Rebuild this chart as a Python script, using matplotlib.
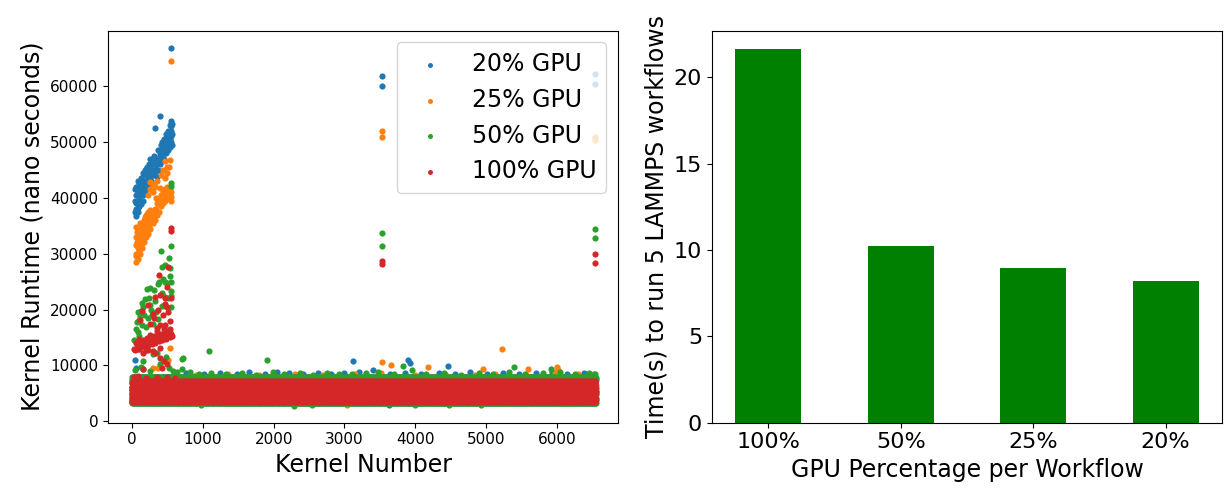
import numpy as np
import matplotlib
matplotlib.use("Agg")
import matplotlib.pyplot as plt

# ---- left panel: kernel runtimes (ns) per GPU share ----
n_kernels = 6550
labels = ["20% GPU", "25% GPU", "50% GPU", "100% GPU"]

# runtimes of one timestep's kernel sequence, repeated over the run
band_20 = [4300, 5800, 3400, 7000, 5100, 7900, 3900, 6400, 4700, 7500, 5500, 3300,
           6100, 4500, 7200, 5300, 7800, 4100, 6700, 5000, 3600, 7400, 5900]
band_25 = [4600, 3400, 6200, 5100, 7600, 3800, 5700, 4300, 6900, 5300, 7300, 4000,
           6500, 4900, 3500, 7700, 5500, 6000, 4400]
band_50 = [3900, 6100, 4800, 7400, 3300, 5600, 6800, 4300, 7900, 5200, 3600, 6400,
           4600, 7100, 5800, 4000, 7600]
band_100 = [4100, 5600, 3700, 6800, 4900, 6200, 3500, 5300, 7100, 4400, 5900, 3900,
            6500, 5000, 7200, 4200, 5700, 3600, 6300, 4700, 6900, 5400, 3800, 6000,
            4500, 6600]

# start-up kernels (first ~600) plus outliers
extra_20_x = [40, 40, 40, 60, 60, 60, 60, 80, 80, 80, 80, 100, 100, 100, 120, 120, 120,
              150, 150, 150, 150, 180, 180, 180, 210, 210, 210, 240, 240, 240, 270, 270,
              270, 300, 300, 300, 330, 330, 330, 360, 360, 360, 390, 390, 390, 420, 420,
              420, 450, 450, 450, 480, 480, 480, 510, 510, 510, 530, 530, 530, 550, 550,
              550, 550, 560, 560, 560, 45, 50, 160, 3533, 3533, 6533, 6533, 3118, 3903,
              3931, 4464, 3409, 3634,
              55, 70, 90, 95, 110, 130, 135, 165, 170, 195, 200, 225, 230, 255, 260, 285,
              315, 345, 375, 400, 405, 435, 440, 465, 470, 495, 500, 520, 540, 545, 555,
              350, 310, 250]
extra_20_y = [37500, 39500, 41500, 38000, 40500, 42000, 36800, 39000, 41000, 37500, 43000,
              38500, 40000, 42500, 39500, 41500, 43500, 40500, 42500, 44500, 39500, 41000,
              43000, 45000, 42000, 44000, 45500, 42500, 44500, 46000, 43000, 45000, 41500,
              44000, 46000, 42500, 44500, 46500, 52500, 45000, 47000, 48500, 46000, 48000,
              54700, 46500, 48500, 50000, 47000, 49000, 50500, 48000, 50000, 51500, 48500,
              50500, 52000, 49000, 51000, 53000, 50000, 52000, 53800, 66800, 49500, 51500,
              53200, 10900, 9600, 9300, 61800, 60000, 62100, 60400, 10850, 11000, 10400,
              9950, 9240, 3000,
              39000, 41800, 38200, 42000, 40800, 38800, 42800, 41800, 44000, 42500, 45200,
              43500, 41800, 43800, 45500, 44500, 45000, 45800, 46500, 47500, 49500, 47800,
              49500, 49800, 48500, 50800, 49200, 51500, 50500, 52800, 51000, 43800, 47500,
              47000]

extra_25_x = [50, 50, 50, 50, 50, 80, 80, 80, 80, 110, 110, 110, 110, 140, 140, 140, 170,
              170, 170, 200, 200, 200, 230, 230, 230, 230, 260, 260, 260, 260, 290, 290,
              290, 320, 320, 320, 350, 350, 350, 380, 380, 410, 410, 410, 440, 440, 440,
              470, 470, 470, 500, 500, 500, 530, 530, 530, 550, 550, 550, 300, 370, 537,
              513, 3533, 3533, 6533, 6533, 5232, 3533, 3662, 4183, 4963, 5596, 6000, 6020,
              3034,
              60, 65, 70, 95, 100, 125, 130, 155, 160, 185, 190, 215, 220, 245, 250, 275,
              280, 305, 310, 335, 340, 365, 395, 400, 425, 455, 460, 485, 490, 515, 520,
              545]
extra_25_y = [28500, 30000, 31500, 33000, 34800, 29000, 31000, 32500, 34000, 30000, 32000,
              33500, 35500, 31000, 33000, 35000, 32000, 34000, 36000, 33000, 35000, 37000,
              33500, 35500, 37500, 40500, 34500, 36500, 41500, 42800, 35500, 37500, 41000,
              36000, 38000, 42000, 37000, 39000, 43000, 37500, 39500, 38500, 40500, 44000,
              39000, 41000, 45000, 39500, 41500, 46500, 40000, 42000, 45500, 40500, 41500,
              46800, 39500, 41000, 64500, 9500, 9600, 13100, 11000, 52000, 50800, 50900,
              50400, 13000, 10600, 10000, 9650, 9400, 9350, 9650, 9250, 3000,
              29500, 32000, 33800, 30500, 33200, 31500, 34500, 32500, 35200, 33800, 36500,
              34500, 36300, 35200, 37800, 36000, 41800, 37000, 42500, 37800, 40000, 38800,
              39500, 41800, 40000, 40500, 43500, 41000, 44500, 41500, 45500, 40200]

extra_50_x = [551, 551, 551, 527, 410, 420, 466, 537, 386, 470, 551, 207, 254, 551, 513,
              137, 160, 250, 66, 90, 113, 420, 466, 300, 370, 537, 490, 33, 60, 100, 200,
              280, 330, 430, 150, 300, 350, 480, 725, 1092, 1912, 707, 3830, 5400, 5916,
              3533, 3533, 6533, 6533, 2288, 970, 4475, 4923, 4000, 2540, 40, 120, 250,
              400, 520, 580, 640,
              80, 100, 120, 140, 170, 190, 220, 240, 270, 310, 340, 360, 420, 440, 460,
              500, 530, 545, 555]
extra_50_y = [42600, 42100, 31300, 29200, 30400, 27700, 28000, 27500, 24900, 24900, 24900,
              23600, 23900, 23300, 22100, 21200, 20400, 20800, 17800, 19500, 18800, 20700,
              20700, 17500, 18300, 15900, 16200, 14600, 16500, 15200, 16800, 19000, 21500,
              22800, 10800, 12000, 12200, 11500, 11400, 12550, 10950, 11140, 9830, 9700,
              9350, 33700, 31300, 34400, 32800, 2700, 3000, 3000, 3000, 3000, 3000, 9200,
              9800, 9000, 10300, 9500, 9000, 8800,
              16000, 18200, 19800, 17200, 19000, 21800, 18500, 22000, 20000, 23500, 19500,
              24500, 23000, 25500, 22300, 24800, 26000, 22500, 20500]

extra_100_x = [551, 551, 513, 386, 490, 330, 400, 466, 140, 220, 300, 490, 513, 113, 349,
               400, 466, 33, 80, 130, 180, 230, 280, 330, 380, 430, 480, 530, 560, 60, 110,
               160, 210, 260, 310, 360, 410, 460, 510, 555, 155, 230, 300, 325, 400, 450,
               490, 160, 420, 3533, 3533, 6533, 6533, 30, 90, 200, 350, 500, 600,
               45, 70, 95, 120, 145, 170, 195, 220, 245, 270, 295, 320, 345, 370, 395, 420,
               445, 470, 495, 520, 545, 100, 250, 350, 450, 530, 200, 400,
               260, 310, 360, 440, 470, 530, 550]
extra_100_y = [34600, 34000, 27700, 26200, 24000, 22300, 22600, 22000, 19800, 20900, 19200,
               20400, 19500, 18200, 16700, 17300, 17300, 12900, 13000, 13300, 13500, 13700,
               13900, 14100, 14300, 14500, 14800, 15000, 15200, 14000, 14300, 14600, 14900,
               15100, 15300, 15500, 15700, 15800, 15900, 15400, 12300, 12700, 12500, 12200,
               11300, 10800, 10200, 9300, 9600, 28600, 28100, 30000, 28400, 7900, 8100,
               7800, 8000, 7900, 7700,
               12800, 13200, 13000, 13600, 13400, 14000, 13800, 14300, 14100, 14600, 14400,
               14900, 14700, 15200, 15000, 15400, 15300, 15600, 15500, 15800, 15700, 14700,
               15500, 16200, 16500, 16500, 12700, 13200,
               17500, 18500, 20000, 19000, 21000, 18000, 22000]

# ragged upper edge of the dense band
edge_20_x = [760, 1010, 1240, 1480, 1650, 1880, 2050, 2210, 2420, 2630, 2810, 2990, 3200,
             3640, 3860, 4080, 4330, 4560, 4780, 5020, 5240, 5470, 5700, 5930, 6150, 6390,
             6520]
edge_20_y = [8700, 8500, 8600, 8400, 8800, 8500, 8900, 8600, 8400, 8700, 8500, 8600, 8800,
             8500, 8700, 8400, 8600, 8500, 8800, 8400, 8700, 8500, 8600, 8800, 8500, 8700,
             8400]
edge_25_x = [900, 1350, 1790, 2300, 2700, 3150, 3520, 4000, 4420, 4850, 5130, 5560, 5980,
             6300, 6480]
edge_25_y = [8300, 8500, 8200, 8400, 8300, 8500, 8600, 8300, 8400, 8200, 8500, 8300, 8700,
             8400, 8300]
edge_50_x = [700, 820, 950, 1120, 1330, 1560, 1750, 1990, 2150, 2370, 2560, 2750, 2930,
             3100, 3300, 3480, 3700, 3950, 4150, 4400, 4650, 4900, 5100, 5330, 5550, 5800,
             6050, 6250, 6450, 6540]
edge_50_y = [9300, 8800, 8500, 8700, 8400, 8600, 8300, 8800, 8500, 8600, 8300, 8700, 8500,
             8400, 8600, 8800, 8500, 9200, 8400, 8600, 8300, 8700, 8500, 8900, 8400, 8600,
             8800, 8500, 8700, 8400]

# ---- right panel: total time ----
gpu_share = ["100%", "50%", "25%", "20%"]
total_time = [21.62, 10.23, 8.94, 8.20]

series = [
    (band_20, extra_20_x + edge_20_x, extra_20_y + edge_20_y, "tab:blue"),
    (band_25, extra_25_x + edge_25_x, extra_25_y + edge_25_y, "tab:orange"),
    (band_50, extra_50_x + edge_50_x, extra_50_y + edge_50_y, "tab:green"),
    (band_100, extra_100_x, extra_100_y, "tab:red"),
]

fig = plt.figure(figsize=(12.25, 4.91), dpi=100)
ax1 = fig.add_axes([0.0882, 0.1391, 0.4163, 0.7984])
ax2 = fig.add_axes([0.5812, 0.1391, 0.4163, 0.7984])

kernel_num = np.arange(n_kernels)
for (band, ex_x, ex_y, color), label in zip(series, labels):
    band_y = np.resize(np.array(band), n_kernels)
    x = np.concatenate([kernel_num, ex_x])
    y = np.concatenate([band_y, ex_y])
    ax1.scatter(x, y, s=20, color=color, label=label, linewidths=0)

ax1.set_xlim(-339, 6864)
ax1.set_ylim(-250, 69900)
ax1.set_xlabel("Kernel Number", fontsize=17)
ax1.set_ylabel("Kernel Runtime (nano seconds)", fontsize=17)
ax1.tick_params(labelsize=11)
ax1.legend(loc="upper right", fontsize=17, markerscale=0.8)

ax2.bar(gpu_share, total_time, width=0.5, color="green")
ax2.set_xlabel("GPU Percentage per Workflow", fontsize=17)
ax2.set_ylabel("Time(s) to run 5 LAMMPS workflows", fontsize=17)
ax2.tick_params(labelsize=16)

fig.savefig("out.png", dpi=100)
